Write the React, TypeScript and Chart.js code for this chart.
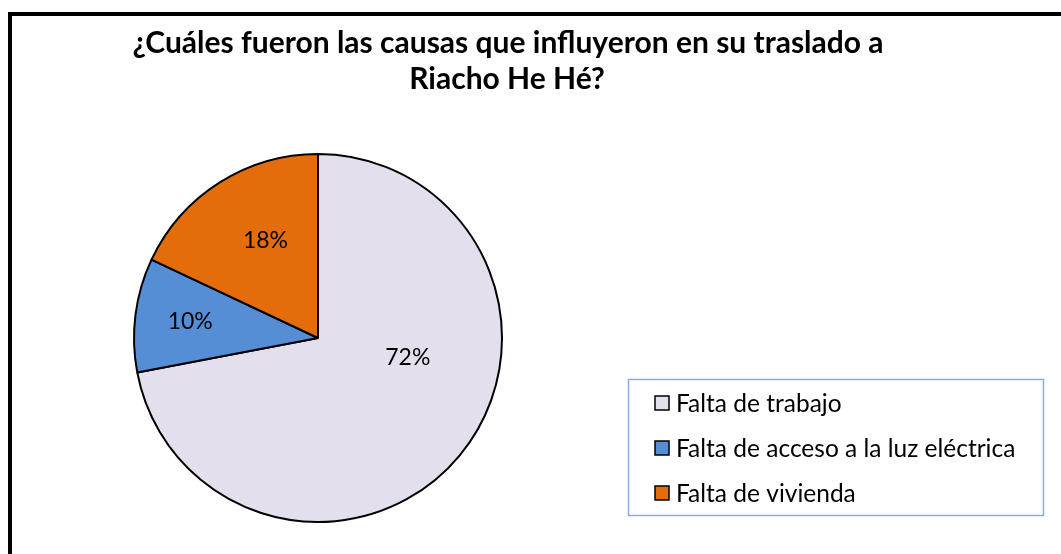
import React, { useEffect, useRef } from "react";
import { Chart, registerables } from "chart.js";

Chart.register(...registerables);

const TITLE_LINES = ["¿Cuáles fueron las causas que influyeron en su traslado a", "Riacho He Hé?"];
const CATEGORIES = ["Falta de trabajo", "Falta de acceso a la luz eléctrica", "Falta de vivienda"];
const VALUES = [72, 10, 18];
const COLORS = ["#E4DFEC", "#558ED5", "#E46C0A"];

const FONT = "Lato, 'Open Sans', sans-serif";
const W = 1061;
const H = 554;

// per-slice label placement (angle shift in degrees, radius fraction)
const LABEL_PLACE = [
  { shift: -27, r: 0.5 },
  { shift: 0, r: 0.7 },
  { shift: 4, r: 0.6 },
];

const decorPlugin = {
  id: "decor",
  beforeDraw(chart: any) {
    const ctx = chart.ctx;
    ctx.save();
    ctx.fillStyle = "#ffffff";
    ctx.fillRect(0, 0, W, H);
    // frame
    ctx.strokeStyle = "#000000";
    ctx.lineWidth = 4;
    ctx.strokeRect(10, 14, W + 40, H + 40);
    ctx.restore();
  },
  afterDraw(chart: any) {
    const ctx = chart.ctx;
    ctx.save();
    // title
    ctx.fillStyle = "#000000";
    ctx.font = `bold 30px ${FONT}`;
    ctx.textAlign = "center";
    ctx.textBaseline = "alphabetic";
    ctx.fillText(TITLE_LINES[0], 508, 53);
    ctx.fillText(TITLE_LINES[1], 507, 89);

    // data labels
    const meta = chart.getDatasetMeta(0);
    const data = chart.data.datasets[0].data as number[];
    const total = data.reduce((a: number, b: number) => a + b, 0);
    ctx.font = `23px ${FONT}`;
    ctx.textBaseline = "middle";
    meta.data.forEach((arc: any, i: number) => {
      const p = arc.getProps(["x", "y", "startAngle", "endAngle", "outerRadius"], true);
      const pl = LABEL_PLACE[i];
      const a = (p.startAngle + p.endAngle) / 2 + (pl.shift * Math.PI) / 180;
      const rr = p.outerRadius * pl.r;
      const x = p.x + Math.cos(a) * rr;
      const y = p.y + Math.sin(a) * rr;
      ctx.fillText(Math.round((data[i] / total) * 100) + "%", x, y);
    });

    // legend
    const lx = 628, ly = 379, lw = 415, lh = 136;
    ctx.strokeStyle = "#8EA9DB";
    ctx.lineWidth = 1.5;
    ctx.strokeRect(lx + 0.5, ly + 0.5, lw, lh);
    ctx.textAlign = "left";
    ctx.font = `24.5px ${FONT}`;
    const labels = chart.data.labels as string[];
    const colors = chart.data.datasets[0].backgroundColor as string[];
    labels.forEach((lab: string, i: number) => {
      const cy = 403 + i * 45;
      ctx.fillStyle = colors[i];
      ctx.fillRect(655, cy - 7, 14, 14);
      ctx.strokeStyle = "#000000";
      ctx.lineWidth = 1.5;
      ctx.strokeRect(655, cy - 7, 14, 14);
      ctx.fillStyle = "#000000";
      ctx.fillText(lab, 676, cy + 1);
    });
    ctx.restore();
  },
};

export default function App() {
  const ref = useRef<HTMLCanvasElement | null>(null);
  useEffect(() => {
    if (!ref.current) return;
    const chart = new Chart(ref.current, {
      type: "pie",
      data: {
        labels: CATEGORIES,
        datasets: [
          {
            data: VALUES,
            backgroundColor: COLORS,
            borderColor: "#000000",
            borderWidth: 2,
          },
        ],
      },
      options: {
        responsive: false,
        animation: false,
        layout: { padding: { left: 133, right: 558, top: 153, bottom: 31 } },
        plugins: {
          legend: { display: false },
          title: { display: false },
          tooltip: { enabled: false },
        },
      },
      plugins: [decorPlugin],
    });
    return () => chart.destroy();
  }, []);
  return (
    <div style={{ position: "absolute", left: 0, top: 0, width: W, height: H }}>
      <canvas ref={ref} width={W} height={H} style={{ width: W, height: H, display: "block" }} />
    </div>
  );
}
